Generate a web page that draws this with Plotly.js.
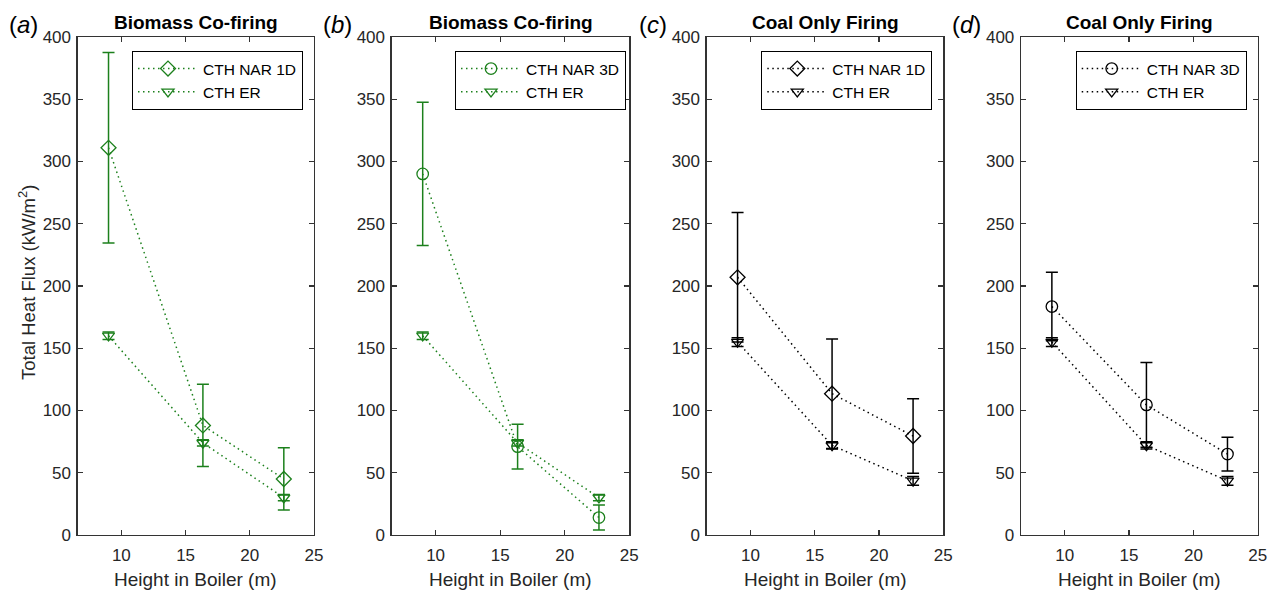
<!DOCTYPE html>
<html>
<head>
<meta charset="utf-8">
<script src="https://cdn.plot.ly/plotly-3.0.1.min.js"></script>
<style>html,body{margin:0;padding:0;background:#fff;}#chart{width:1275px;height:590px;}</style>
</head>
<body>
<div id="chart"></div>
<script>
// ---- data ----
const heights = [9.0, 16.35, 22.65];

// (a) Biomass co-firing, CTH NAR 1D
const narBio1D = [311, 88, 45];
const narBio1DErr = [76.5, 33, 25];
// (b) Biomass co-firing, CTH NAR 3D
const narBio3D = [290, 71, 14];
const narBio3DErr = [57.5, 18, 10];
// CTH ER, biomass co-firing (a, b)
const erBio = [160, 74, 30];
const erBioErr = [3, 2.5, 2.5];

// (c) Coal only, CTH NAR 1D
const narCoal1D = [207, 113.5, 79.5];
const narCoal1DErr = [52, 44, 30];
// (d) Coal only, CTH NAR 3D
const narCoal3D = [183.5, 104.5, 65];
const narCoal3DErr = [27.5, 34, 13.5];
// CTH ER, coal only (c, d)
const erCoal = [155, 72, 43.5];
const erCoalErr = [3.5, 3, 3.5];

const panelTitles = ['Biomass Co-firing', 'Biomass Co-firing', 'Coal Only Firing', 'Coal Only Firing'];
const panelLetters = ['a', 'b', 'c', 'd'];
const narNames = ['CTH NAR 1D', 'CTH NAR 3D', 'CTH NAR 1D', 'CTH NAR 3D'];
const xTickVals = [10, 15, 20, 25];
const yTickVals = [0, 50, 100, 150, 200, 250, 300, 350, 400];
const xAxisLabel = 'Height in Boiler (m)';
const yAxisLabel = 'Total Heat Flux (kW/m<sup>2</sup>)';

// ---- styling ----
const GREEN = 'rgb(28,128,28)';
const BLACK = 'rgb(0,0,0)';
const W = 1275, H = 590;
const plotLeft = [77.7, 391.7, 706.7, 1021];
const plotRight = [314, 629.3, 943.3, 1257.7];
const plotTop = 37, plotBottom = 535;
const legendRight = [303, 626, 932.3, 1246.7];
const FONT = 'Liberation Sans, Arial, Helvetica, sans-serif';

const panels = [
  {nar: narBio1D, narErr: narBio1DErr, narSym: 'diamond-open', er: erBio, erErr: erBioErr, color: GREEN},
  {nar: narBio3D, narErr: narBio3DErr, narSym: 'circle-open', er: erBio, erErr: erBioErr, color: GREEN},
  {nar: narCoal1D, narErr: narCoal1DErr, narSym: 'diamond-open', er: erCoal, erErr: erCoalErr, color: BLACK},
  {nar: narCoal3D, narErr: narCoal3DErr, narSym: 'circle-open', er: erCoal, erErr: erCoalErr, color: BLACK}
];

const traces = [];
const layout = {
  width: W, height: H,
  margin: {l: 0, r: 0, t: 0, b: 0},
  paper_bgcolor: '#fff', plot_bgcolor: '#fff',
  font: {family: FONT, color: '#262626'},
  showlegend: true,
  annotations: []
};

panels.forEach((p, i) => {
  const n = i + 1;
  const xa = n === 1 ? 'x' : 'x' + n;
  const ya = n === 1 ? 'y' : 'y' + n;
  const lg = n === 1 ? 'legend' : 'legend' + n;
  const dash = '1.5px,3.5px';
  traces.push({
    x: heights, y: p.nar, xaxis: xa, yaxis: ya, legend: lg,
    name: narNames[i], type: 'scatter', mode: 'lines+markers',
    line: {color: p.color, width: 1.5, dash: dash},
    marker: {symbol: p.narSym, size: 11.5, color: p.color, line: {width: 1.3, color: p.color}},
    error_y: {type: 'data', array: p.narErr, symmetric: true, color: p.color, thickness: 1.5, width: 6}
  });
  traces.push({
    x: heights, y: p.er, xaxis: xa, yaxis: ya, legend: lg,
    name: 'CTH ER', type: 'scatter', mode: 'lines+markers',
    line: {color: p.color, width: 1.5, dash: dash},
    marker: {symbol: 'triangle-down-open', size: 10.5, color: p.color, line: {width: 1.3, color: p.color}},
    error_y: {type: 'data', array: p.erErr, symmetric: true, color: p.color, thickness: 1.5, width: 6}
  });

  const axCommon = {
    showline: true, mirror: 'ticks', linecolor: '#333', linewidth: 1.3,
    ticks: 'inside', ticklen: 5, tickwidth: 1.2, tickcolor: '#333',
    showgrid: false, zeroline: false, fixedrange: true,
    tickfont: {family: FONT, size: 17, color: '#262626'}
  };
  layout[n === 1 ? 'xaxis' : 'xaxis' + n] = Object.assign({}, axCommon, {
    domain: [plotLeft[i] / W, plotRight[i] / W], anchor: ya,
    range: [6.6, 25], tickmode: 'array', tickvals: xTickVals, ticklabelstandoff: 4
  });
  layout[n === 1 ? 'yaxis' : 'yaxis' + n] = Object.assign({}, axCommon, {
    domain: [1 - plotBottom / H, 1 - plotTop / H], anchor: xa,
    range: [0, 400], tickmode: 'array', tickvals: yTickVals, ticklabelstandoff: 2
  });
  layout[lg] = {
    x: legendRight[i] / W, xanchor: 'right', y: 1 - 51 / H, yanchor: 'top',
    bgcolor: '#fff', bordercolor: '#000', borderwidth: 1,
    font: {family: FONT, size: 15.5, color: '#000'},
    itemwidth: 60, tracegroupgap: 0
  };
  const cx = (plotLeft[i] + plotRight[i]) / 2 / W;
  layout.annotations.push({
    xref: 'paper', yref: 'paper', x: cx, y: 1 - 22.7 / H, xanchor: 'center', yanchor: 'middle',
    text: '<b>' + panelTitles[i] + '</b>', showarrow: false,
    font: {family: FONT, size: 19, color: '#000'}
  });
  layout.annotations.push({
    xref: 'paper', yref: 'paper', x: cx, y: 1 - 579 / H, xanchor: 'center', yanchor: 'middle',
    text: xAxisLabel, showarrow: false,
    font: {family: FONT, size: 19, color: '#262626'}
  });
  layout.annotations.push({
    xref: 'paper', yref: 'paper', x: (plotLeft[i] - 38) / W, y: 1 - 24 / H, xanchor: 'right', yanchor: 'middle',
    text: '(<i>' + panelLetters[i] + '</i>)', showarrow: false,
    font: {family: FONT, size: 24, color: '#000'}
  });
});

layout.annotations.push({
  xref: 'paper', yref: 'paper', x: 27 / W, y: 1 - 283 / H, xanchor: 'center', yanchor: 'middle',
  text: yAxisLabel, textangle: -90, showarrow: false,
  font: {family: FONT, size: 18.5, color: '#262626'}
});

Plotly.newPlot('chart', traces, layout, {displayModeBar: false, staticPlot: true});
</script>
</body>
</html>
